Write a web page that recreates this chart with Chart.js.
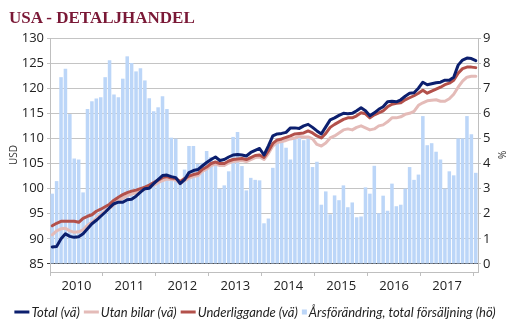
<!DOCTYPE html>
<html><head><meta charset="utf-8">
<script src="https://cdn.jsdelivr.net/npm/chart.js@4.4.1/dist/chart.umd.min.js"></script>
<style>
html,body{margin:0;padding:0;background:#fff;}
#wrap{position:relative;width:514px;height:332px;overflow:hidden;}
#title{position:absolute;left:9px;top:9px;font:bold 17px 'Liberation Serif',serif;line-height:17px;color:#7a1836;white-space:nowrap;}
canvas{position:absolute;left:0;top:0;}
</style></head><body>
<div id="wrap"><canvas id="c" width="514" height="332"></canvas><div id="title">USA - DETALJHANDEL</div></div>
<script>
// ---- data ----
const yearLabels = ['2010','2011','2012','2013','2014','2015','2016','2017'];
const monthNames = ['jan','feb','mar','apr','maj','jun','jul','aug','sep','okt','nov','dec'];
// categories: Jan 2010 .. Jan 2018 (97 months)
const categories = [];
for (const y of [...yearLabels, '2018']) for (const m of monthNames) { if (categories.length < 97) categories.push(m + ' ' + y); }

const leftTicks = [85, 90, 95, 100, 105, 110, 115, 120, 125, 130];
const rightTicks = [0, 1, 2, 3, 4, 5, 6, 7, 8, 9];

const total = [88.4, 88.5, 90.0, 91.0, 90.5, 90.3, 90.4, 91.0, 92.0, 93.0, 93.7, 94.5,
  95.3, 96.2, 97.0, 97.3, 97.3, 97.8, 97.9, 98.5, 99.3, 100.0, 100.1, 101.0,
  101.8, 102.6, 102.7, 102.4, 102.2, 101.0, 101.8, 103.2, 103.6, 103.8, 104.5, 105.2,
  105.8, 106.3, 105.6, 105.8, 106.3, 106.7, 106.8, 106.7, 106.5, 107.2, 107.6, 108.0,
  106.7, 108.5, 110.5, 110.9, 111.0, 111.2, 112.1, 112.1, 112.0, 112.5, 112.8, 112.2,
  111.5, 110.9, 112.3, 113.7, 114.1, 114.6, 115.0, 114.9, 115.0, 115.5, 116.1, 115.5,
  114.5, 115.1, 115.8, 116.3, 117.3, 117.4, 117.3, 117.7, 118.4, 119.0, 119.1, 120.0,
  121.2, 120.7, 120.9, 121.1, 121.2, 121.6, 121.6, 122.2, 124.6, 125.6, 126.0, 125.9,
  125.5];
const utanBilar = [90.8, 91.6, 92.0, 92.1, 91.6, 91.3, 91.4, 91.8, 92.7, 93.3, 94.1, 94.8,
  95.5, 96.1, 96.8, 97.6, 98.1, 98.6, 98.9, 99.2, 99.5, 99.9, 100.3, 100.7,
  101.2, 101.6, 101.9, 101.8, 101.7, 101.0, 101.6, 102.1, 102.4, 102.6, 103.4, 103.9,
  104.6, 104.9, 104.6, 104.6, 105.1, 105.4, 105.5, 105.6, 105.4, 105.8, 106.2, 106.3,
  105.8, 107.0, 108.5, 109.2, 109.4, 109.6, 109.9, 110.1, 110.4, 110.3, 110.3, 109.9,
  108.8, 108.5, 109.1, 110.1, 110.5, 111.1, 111.7, 111.9, 111.7, 112.2, 112.5, 112.1,
  111.7, 111.9, 112.5, 112.7, 113.3, 114.1, 114.1, 114.3, 114.8, 115.0, 115.4, 116.6,
  117.1, 117.5, 117.6, 117.7, 117.4, 117.4, 117.9, 118.8, 120.2, 121.4, 122.2, 122.4,
  122.4];
const underliggande = [92.6, 93.1, 93.5, 93.5, 93.5, 93.5, 93.3, 94.1, 94.5, 94.8, 95.5, 95.9,
  96.4, 96.9, 97.7, 98.3, 98.8, 99.2, 99.5, 99.7, 100.0, 100.3, 100.7, 101.2,
  101.7, 102.2, 102.4, 102.1, 102.0, 101.4, 102.0, 102.5, 102.8, 103.0, 103.8, 104.3,
  105.0, 105.3, 105.0, 105.0, 105.5, 105.8, 105.9, 106.0, 105.8, 106.2, 106.6, 106.7,
  106.2, 107.5, 109.0, 109.7, 109.9, 110.2, 110.5, 110.9, 111.0, 111.1, 111.5, 111.1,
  110.5, 110.1, 111.0, 112.2, 112.8, 113.3, 113.8, 114.1, 114.1, 114.5, 115.1, 114.9,
  114.1, 114.7, 115.1, 115.5, 116.3, 116.8, 117.0, 117.1, 117.7, 118.1, 118.5, 119.0,
  119.6, 119.0, 119.4, 119.8, 120.2, 120.7, 121.0, 121.6, 123.0, 123.9, 124.2, 124.2,
  124.1];
const arsforandring = [2.8, 3.3, 7.44, 7.78, 5.97, 4.2, 4.16, 2.85, 6.17, 6.48, 6.59, 6.64,
  7.44, 8.11, 6.75, 6.64, 7.38, 8.27, 8.0, 7.67, 7.8, 7.31, 6.6, 6.08,
  6.24, 6.68, 6.17, 5.03, 4.99, 3.3, 3.76, 4.7, 4.7, 3.99, 4.03, 4.5,
  4.26, 3.96, 3.0, 3.13, 3.69, 5.06, 5.26, 3.9, 2.93, 3.43, 3.35, 3.33,
  1.62, 1.81, 3.83, 4.99, 4.9, 4.63, 4.16, 5.0, 5.1, 4.93, 5.0, 3.86,
  4.07, 2.36, 2.89, 1.98, 2.73, 2.54, 3.13, 2.26, 2.45, 1.86, 1.89, 3.05,
  2.8, 3.91, 2.02, 2.72, 2.12, 3.2, 2.3, 2.36, 3.0, 3.86, 3.35, 3.56,
  5.89, 4.73, 4.81, 4.47, 4.16, 3.0, 3.69, 3.53, 5.0, 5.0, 5.89, 5.17,
  3.63];

// ---- styles ----
const NAVY = '#0c1f6e', PINK = '#e4bbb8', RED = '#b3514b', BAR = '#bcd6f8';
const GRID = '#c4c4c4', AXIS = '#bfbfbf', TXT = '#222222';
const TICKFONT = {family: "'Open Sans'", size: 13};

const legendPlugin = {
  id: 'customLegend',
  afterDraw(chart) {
    const ctx = chart.ctx;
    ctx.save();
    ctx.font = "italic 13px Lato";
    ctx.textBaseline = 'middle';
    const ds = chart.data.datasets;
    const items = ds.map(d => ({
      text: d.label,
      color: d.type === 'bar' ? d.backgroundColor : d.borderColor,
      w: d.type === 'bar' ? 5 : 15,
      bar: d.type === 'bar',
      tw: ctx.measureText(d.label).width
    }));
    const gapBT = 2, gapItem = 4;
    let tot = 0;
    items.forEach((it, i) => { tot += it.w + gapBT + it.tw + (i < items.length - 1 ? gapItem : 0); });
    let x = 255 - tot / 2;
    const y = 312;
    items.forEach(it => {
      ctx.fillStyle = it.color;
      if (it.bar) ctx.fillRect(x, y - 2.5, 5, 5);
      else ctx.fillRect(x, y - 1.5, 15, 3);
      x += it.w + gapBT;
      ctx.fillStyle = TXT;
      ctx.fillText(it.text, x, y + 0.5);
      x += it.tw + gapItem;
    });
    ctx.restore();
  }
};

new Chart(document.getElementById('c'), {
  data: {
    labels: categories,
    datasets: [
      {type: 'line', label: 'Total (vä)', data: total, borderColor: NAVY, borderWidth: 3,
        pointRadius: 0, tension: 0, yAxisID: 'y', xAxisID: 'x', order: 0, borderJoinStyle: 'round', borderCapStyle: 'round'},
      {type: 'line', label: 'Utan bilar (vä)', data: utanBilar, borderColor: PINK, borderWidth: 3,
        pointRadius: 0, tension: 0, yAxisID: 'y', xAxisID: 'x', order: 2, borderJoinStyle: 'round', borderCapStyle: 'round'},
      {type: 'line', label: 'Underliggande (vä)', data: underliggande, borderColor: RED, borderWidth: 3,
        pointRadius: 0, tension: 0, yAxisID: 'y', xAxisID: 'x', order: 1, borderJoinStyle: 'round', borderCapStyle: 'round'},
      {type: 'bar', label: 'Årsförändring, total försäljning (hö)', data: arsforandring, backgroundColor: BAR,
        borderWidth: 0, yAxisID: 'y1', xAxisID: 'x', order: 3, barPercentage: 0.8, categoryPercentage: 1.0}
    ]
  },
  options: {
    responsive: false,
    animation: false,
    devicePixelRatio: 1,
    layout: {padding: {left: 0, right: 0, top: 38, bottom: 0}},
    plugins: {legend: {display: false}, tooltip: {enabled: false}, title: {display: false}},
    scales: {
      x: {type: 'category', display: false, offset: true},
      xt: {
        type: 'linear', position: 'bottom', min: 0, max: 97, offset: false,
        afterBuildTicks(s) { const t = []; for (let k = 0; k <= 96; k += 6) t.push({value: k}); s.ticks = t; },
        afterFit(s) { s.height = 60; },
        border: {display: true, color: AXIS, width: 1},
        grid: {drawOnChartArea: false, drawTicks: true, tickLength: 4,
          color: c => (c.tick && c.tick.value % 12 === 0) ? AXIS : 'rgba(0,0,0,0)'},
        ticks: {autoSkip: false, maxRotation: 0, padding: 2, color: TXT, font: TICKFONT,
          callback: v => (v % 12 === 6) ? yearLabels[(v - 6) / 12] : ''}
      },
      y: {
        type: 'linear', position: 'left', min: 83.4, max: 130,
        afterBuildTicks(s) { s.ticks = leftTicks.map(v => ({value: v})); },
        afterFit(s) { s.width = 50; },
        border: {display: true, color: AXIS, width: 1},
        grid: {drawTicks: true, tickLength: 3, lineWidth: 1,
          color: c => (c.tick && c.tick.value === 85) ? '#404040' : GRID},
        ticks: {padding: 3, color: TXT, font: TICKFONT},
        title: {display: true, text: 'USD', color: '#333', font: {family: "'Open Sans'", size: 10}, padding: 8}
      },
      y1: {
        type: 'linear', position: 'right', min: -0.32, max: 9,
        afterBuildTicks(s) { s.ticks = rightTicks.map(v => ({value: v})); },
        afterFit(s) { s.width = 36; },
        border: {display: true, color: AXIS, width: 1},
        grid: {drawOnChartArea: false, drawTicks: true, tickLength: 3, color: AXIS},
        ticks: {padding: 2, color: TXT, font: TICKFONT},
        title: {display: true, text: '%', color: '#333', font: {family: "'Open Sans'", size: 10}, padding: 7}
      }
    }
  },
  plugins: [legendPlugin]
});
</script>
</body></html>
